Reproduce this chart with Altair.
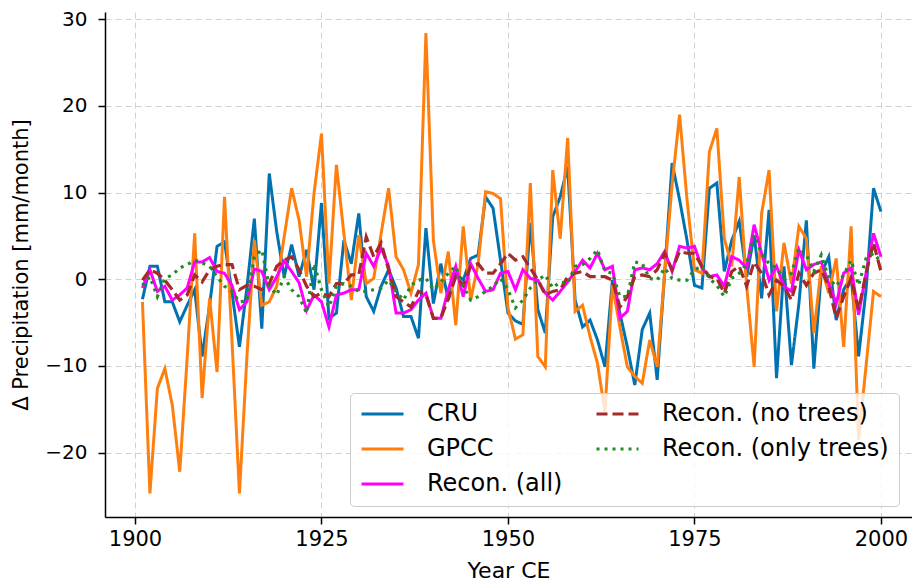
import altair as alt
import pandas as pd

years = list(range(1901, 2001))

cru = [-2.3, 1.5, 1.5, -2.6, -2.6, -4.9, -3.0, -1.2, -8.9, -3.0,
       3.8, 4.3, -1.5, -7.8, -1.0, 7.0, -5.7, 12.2, 5.5, 0.3,
       4.0, 0.3, 3.4, -1.2, 8.8, -4.5, -3.9, 4.5, 1.8, 7.6,
       -2.0, -3.7, -0.8, 1.1, -1.0, -4.3, -4.3, -6.8, 5.9, -2.8,
       1.8, -2.4, 0.7, -0.1, 2.4, 2.8, 9.5, 8.2, 2.2, -3.9,
       -4.8, -5.2, 6.5, -3.5, -6.2, 7.2, 9.5, 13.0, -2.4, -5.5,
       -4.7, -7.0, -10.1, -0.1, -3.9, -7.8, -12.2, -5.8, -3.9, -11.6,
       0.7, 13.4, 9.2, 4.5, -0.7, -1.0, 10.5, 11.1, 0.9, 4.5,
       6.7, 0.3, 5.1, -2.2, 8.0, -11.4, 1.5, -9.9, -2.8, 6.8,
       -10.3, 0.7, 2.6, -4.7, -1.2, 0.3, -8.9, -1.2, 10.5, 7.8]

gpcc = [-2.6, -24.7, -12.6, -10.3, -14.5, -22.2, -9.0, 5.3, -13.7, -2.2,
        -10.7, 9.5, -7.0, -24.7, -9.0, 4.5, -3.0, -2.6, -0.8, 4.9,
        10.5, 6.8, 0.3, 9.9, 16.8, -0.5, 13.2, 5.3, -2.4, 5.1,
        -0.5, 0.1, 5.3, 10.5, 2.6, 1.1, -1.6, 1.7, 28.4, 4.5,
        -1.6, 3.2, -5.3, 6.1, -2.4, 1.8, 10.1, 9.9, 9.3, -3.3,
        -6.9, -6.4, 11.1, -8.9, -10.1, 12.6, 4.7, 16.3, -3.7, -3.0,
        -6.6, -9.7, -15.3, -0.7, -5.5, -10.1, -11.2, -12.0, -7.0, -10.1,
        0.7, 10.9, 19.0, 9.2, 1.1, 0.7, 14.7, 17.4, 4.7, 1.5,
        11.8, -0.8, -10.1, 7.6, 12.6, -3.7, 4.2, -0.5, 6.1, 4.7,
        -6.2, 1.5, -1.6, 2.4, -7.8, 6.1, -18.5, -10.0, -1.4, -2.0]

recon_all = [-1.0, 1.1, -1.4, -0.8, -2.4, -1.8, -1.0, 2.0, 2.0, 2.5,
             0.9, 0.7, -0.7, -3.5, -2.6, 1.2, 0.9, -1.2, 0.3, 2.1,
             0.9, -0.4, -3.6, -1.8, -2.6, -5.5, -1.8, -1.6, -1.2, -1.2,
             3.0, 1.5, 3.6, 1.5, -3.9, -3.9, -3.5, -2.4, -1.6, -4.5,
             -4.5, -1.2, 1.5, -2.0, 1.8, 0.1, -1.4, -1.2, 0.7, 0.9,
             -1.2, 1.1, 0.1, -0.1, -1.6, -2.4, -1.4, -0.3, 0.9, 2.2,
             1.3, 3.0, 1.1, 1.5, -4.5, -3.7, 1.1, 1.3, 1.1, 1.8,
             3.2, 0.9, 3.8, 3.6, 3.8, 1.3, 0.3, 0.5, -0.8, 2.6,
             2.2, 1.3, 6.3, 3.0, -0.1, 1.5, -0.8, -1.4, 3.4, 1.1,
             1.7, 2.0, -0.5, -2.8, 0.7, 1.3, -4.1, 0.7, 5.3, 2.6]

recon_no_trees = [-0.1, 1.1, 0.7, -0.1, -1.2, -2.4, -1.8, 0.5, -0.3, 1.1,
                  1.5, 1.7, 1.7, -1.2, -0.7, -0.8, -1.2, -0.5, 1.5, 2.2,
                  2.6, 1.1, -0.8, -2.0, -1.6, -2.0, -0.5, -0.5, 0.5, 0.5,
                  4.9, 2.6, 4.2, 1.1, -2.0, -2.6, -3.2, -1.4, -1.8, -4.5,
                  -4.5, -2.2, 0.3, -0.7, 1.5, 1.8, 0.7, 0.7, 1.8, 3.0,
                  2.2, 2.6, 1.3, -0.1, -1.8, -1.4, -1.2, 0.3, 0.7, 0.9,
                  0.3, 0.3, 0.3, -0.1, -3.2, -2.0, 0.3, 0.5, 0.3, 1.1,
                  3.0, 1.1, 3.2, 3.0, 3.0, 1.5, 0.3, 0.1, -1.6, 0.9,
                  1.5, -0.8, 2.0, 0.7, -1.8, -0.1, -0.8, -2.4, 0.7, -0.7,
                  0.7, 1.1, -0.8, -4.5, -2.0, 0.1, -3.5, 0.7, 4.2, 0.9]

recon_only_trees = [-0.7, 0.3, -2.0, 0.1, 0.5, 1.3, 1.7, 2.2, 1.9, 1.5,
                    0.3, -0.8, -1.4, -2.6, -2.5, 2.6, 3.4, -0.8, -1.8, 0.3,
                    -1.2, -2.0, -3.9, 1.8, -1.2, -3.2, -0.8, -0.5, -0.8, -1.4,
                    -1.4, -1.2, -1.0, -0.1, -1.4, -2.4, -0.7, -0.1, 0.1, -1.2,
                    -0.3, 0.7, 1.5, -0.8, -2.4, -2.0, -1.4, -0.8, 0.1, -1.2,
                    -3.3, -2.4, -1.0, -0.1, 0.5, -1.0, -0.3, -0.5, 1.5, 1.7,
                    2.4, 3.4, 0.9, 0.7, -2.0, -2.0, 2.0, 1.8, 0.1, -0.1,
                    1.3, 0.1, -0.1, -0.1, 1.1, 1.5, 0.1, -0.7, -2.0, 0.1,
                    0.7, 1.8, 5.1, 3.0, 1.8, 1.3, 0.1, 0.7, 3.6, 2.8,
                    0.9, 2.8, 0.1, -0.8, 0.5, 2.2, -0.7, 2.4, 3.0, 2.0]

series_names = ["CRU", "GPCC", "Recon. (all)", "Recon. (no trees)", "Recon. (only trees)"]
series_values = [cru, gpcc, recon_all, recon_no_trees, recon_only_trees]
series_colors = ["#0072b2", "#ff7f0e", "#ff00ff", "#a52a2a", "#228b22"]
series_dashes = [[1, 0], [1, 0], [1, 0], [11, 5], [3, 5]]

rows = []
for name, vals in zip(series_names, series_values):
    for yr, v in zip(years, vals):
        rows.append({"year": yr, "value": v, "series": name})
df = pd.DataFrame(rows)

FONT = "DejaVu Sans"

x_enc = alt.X("year:Q",
              scale=alt.Scale(domain=[1895.98, 2004.16], nice=False, zero=False),
              axis=alt.Axis(values=[1900, 1925, 1950, 1975, 2000], format="d",
                            title="Year CE"))
y_enc = alt.Y("value:Q",
              scale=alt.Scale(domain=[-27.42, 30.83], nice=False, zero=False),
              axis=alt.Axis(values=[-20, -10, 0, 10, 20, 30],
                            title="Δ Precipitation [mm/month]"))
leg = alt.Legend(title=None, orient="none", legendX=245, legendY=381, columns=2)
color_enc = alt.Color("series:N",
                      scale=alt.Scale(domain=series_names, range=series_colors),
                      legend=leg)
dash_enc = alt.StrokeDash("series:N",
                          scale=alt.Scale(domain=series_names, range=series_dashes),
                          legend=leg)

base = alt.Chart(df)
widths = {"CRU": 3, "GPCC": 3, "Recon. (all)": 3,
          "Recon. (no trees)": 3.2, "Recon. (only trees)": 3.2}
layers = []
for name in series_names:
    layers.append(
        base.transform_filter(alt.datum.series == name)
        .mark_line(strokeWidth=widths[name], clip=True)
        .encode(x=x_enc, y=y_enc, color=color_enc, strokeDash=dash_enc)
    )

chart = alt.layer(*layers).properties(
    width=807, height=505,
    autosize=alt.AutoSizeParams(type="none"),
    padding={"left": 97, "top": 4, "right": 0, "bottom": 67},
).configure_view(stroke=None).configure_axis(
    grid=True, gridColor="#d0d0d0", gridDash=[6, 4], gridWidth=1,
    domainColor="black", domainWidth=1.5,
    tickColor="black", tickWidth=1.5, tickSize=7,
    labelFont=FONT, labelColor="black",
    titleFont=FONT, titleColor="black", titleFontWeight="normal",
).configure_axisX(
    labelPadding=4, titlePadding=11, labelFontSize=21, titleFontSize=22,
).configure_axisY(
    labelPadding=11, titlePadding=13, labelFontSize=20, titleFontSize=21,
).configure_legend(
    fillColor="rgba(255,255,255,0.8)", strokeColor="#cccccc", cornerRadius=4,
    padding=10, symbolType="stroke", symbolSize=1764, symbolStrokeWidth=3,
    labelFont=FONT, labelFontSize=24, labelColor="black", labelLimit=400,
    labelOffset=22, columnPadding=32, rowPadding=11, clipHeight=22,
)

chart.save("out.html", embed_options={"renderer": "svg", "actions": False})
